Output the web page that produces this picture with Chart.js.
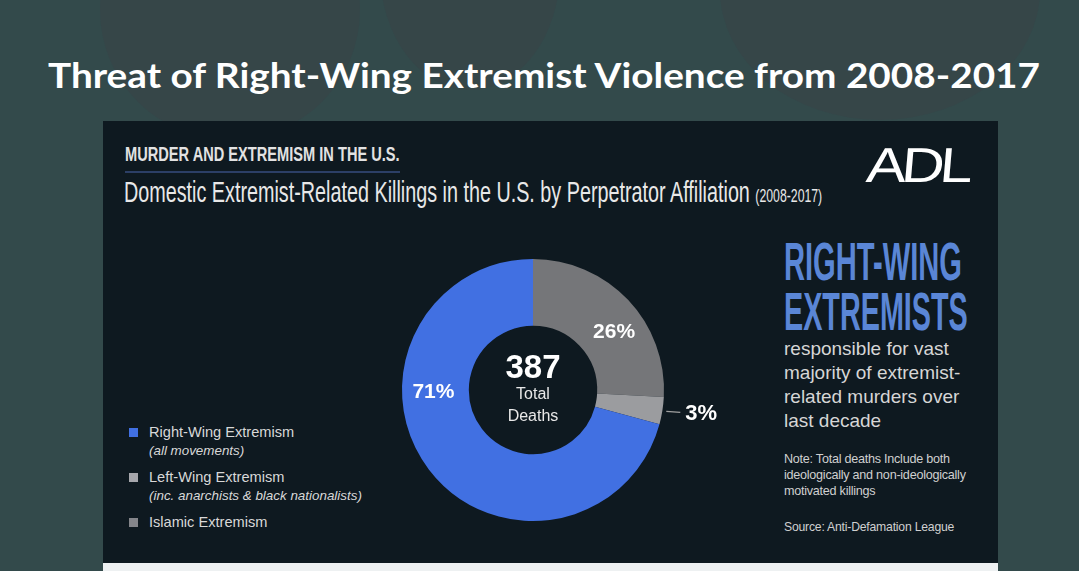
<!DOCTYPE html>
<html>
<head>
<meta charset="utf-8">
<script src="https://cdn.jsdelivr.net/npm/chart.js@4.4.1/dist/chart.umd.min.js"></script>
<style>
  html, body { margin:0; padding:0; }
  body { width:1079px; height:571px; position:relative; overflow:hidden; background:#334a4b; font-family:"Liberation Sans", Arial, sans-serif; }
  .deco { position:absolute; border-radius:50%; background:#3c4046; opacity:0.35; }
  .fit { display:inline-block; transform-origin:left top; white-space:nowrap; }
  #title { position:absolute; left:48px; top:54px; color:#fff; font-family:Lato, "Open Sans", sans-serif; font-weight:700; font-size:34px; line-height:42px; }
  #panel { position:absolute; left:103px; top:121px; width:895px; height:442px; background:#0e1920; }
  #strip { position:absolute; left:103px; top:563px; width:895px; height:8px; background:#eef1f2; }
  #kicker { position:absolute; left:125px; top:143px; color:#e2e2e2; font-family:"Liberation Sans", Arial, sans-serif; font-weight:700; font-size:19.5px; line-height:22px; }
  #kbar { position:absolute; left:125px; top:171px; width:275px; height:2px; background:#2c3f66; }
  #subtitle { position:absolute; left:124px; top:176px; color:#e8e8e8; font-family:"Liberation Sans", Arial, sans-serif; font-size:29px; line-height:33px; }
  #subtitle small { font-size:18px; }
  #adl { position:absolute; left:869px; top:137px; color:#fff; font-family:"Liberation Sans", Arial, sans-serif; font-size:49px; letter-spacing:-4px; white-space:nowrap; transform-origin:left top; transform:scaleX(1.22) skewX(-4deg); }
  #adl span { font-size:10px; letter-spacing:0; }
  #big { position:absolute; left:784px; top:237px; color:#5a86d6; font-family:"Liberation Sans", Arial, sans-serif; font-weight:700; font-size:53px; line-height:50px; }
  #resp { position:absolute; left:784px; top:337px; color:#d6d6d6; font-family:"Liberation Sans", Arial, sans-serif; font-size:19px; line-height:24px; white-space:nowrap; }
  #note { position:absolute; left:784px; top:451px; color:#d0d0d0; font-family:"Liberation Sans", Arial, sans-serif; font-size:12.6px; line-height:16px; white-space:nowrap; letter-spacing:-0.25px; }
  #source { position:absolute; left:784px; top:520px; color:#d0d0d0; font-family:"Liberation Sans", Arial, sans-serif; font-size:12.2px; white-space:nowrap; letter-spacing:-0.2px; }
  #legend { position:absolute; left:129px; top:424px; color:#d8d8d8; font-family:"Liberation Sans", Arial, sans-serif; }
  .li { position:relative; padding-left:20px; font-size:14.6px; line-height:17px; white-space:nowrap; margin-bottom:8px; }
  .li .sw { position:absolute; left:0; top:4px; width:9px; height:9px; }
  .li .sub { font-style:italic; font-size:13.4px; line-height:20px; display:block; }
  #chartWrap { position:absolute; left:0; top:0; width:1079px; height:571px; }
</style>
</head>
<body>
<div class="deco" style="left:100px;top:-120px;width:260px;height:260px;"></div>
<div class="deco" style="left:380px;top:-150px;width:180px;height:240px;"></div>
<div class="deco" style="left:720px;top:-140px;width:320px;height:260px;"></div>
<div id="title" class="fit" data-w="992">Threat of Right-Wing Extremist Violence from 2008-2017</div>
<div id="panel"></div>
<div id="strip"></div>
<div id="kicker" class="fit" data-w="275">MURDER AND EXTREMISM IN THE U.S.</div>
<div id="kbar"></div>
<div id="subtitle" class="fit" data-w="698">Domestic Extremist-Related Killings in the U.S. by Perpetrator Affiliation <small>(2008-2017)</small></div>
<div id="adl">ADL<span>.</span></div>
<div id="big"><span class="fit" data-w="178">RIGHT-WING</span><br><span class="fit" data-w="184">EXTREMISTS</span></div>
<div id="resp">responsible for vast<br>majority of extremist-<br>related murders over<br>last decade</div>
<div id="note">Note: Total deaths Include both<br>ideologically and non-ideologically<br>motivated killings</div>
<div id="source">Source: Anti-Defamation League</div>
<div id="legend"></div>
<div id="chartWrap"><canvas id="c"></canvas></div>
<script>
// ---- data ----
const categories = ['Right-Wing Extremism', 'Left-Wing Extremism', 'Islamic Extremism'];
const subLabels = ['(all movements)', '(inc. anarchists & black nationalists)', ''];
const deaths = [274, 13, 100];
const totalLabel = ['Total', 'Deaths'];

// ---- styles ----
const sliceColors = ['#4170e2', '#9b9c9f', '#757679'];
const legendColors = ['#4170e2', '#a6a7ac', '#84858a'];
const drawOrder = [2, 1, 0];               // clockwise from top: Islamic, Left-Wing, Right-Wing
const labelMode = { 0: 'inside', 1: 'outside', 2: 'inside' };
const labelAngleShift = { 0: 36, 1: 0, 2: 8 };  // degrees

const total = deaths.reduce((a, b) => a + b, 0);

// fit condensed/stretched text to measured widths
document.querySelectorAll('.fit').forEach(el => {
  const w = el.offsetWidth;
  const target = parseFloat(el.dataset.w);
  el.style.transform = 'scaleX(' + (target / w) + ')';
});

// legend
const lg = document.getElementById('legend');
categories.forEach((c, i) => {
  const d = document.createElement('div');
  d.className = 'li';
  d.innerHTML = '<span class="sw" style="background:' + legendColors[i] + '"></span>' + c +
    (subLabels[i] ? '<span class="sub">' + subLabels[i] + '</span>' : '');
  lg.appendChild(d);
});

const labelPlugin = {
  id: 'sliceLabels',
  afterDatasetsDraw(chart) {
    const ctx = chart.ctx;
    const meta = chart.getDatasetMeta(0);
    ctx.save();
    ctx.fillStyle = '#ffffff';
    ctx.textAlign = 'center';
    ctx.textBaseline = 'middle';
    let cx = 0, cy = 0;
    meta.data.forEach((arc, k) => {
      const idx = drawOrder[k];
      const p = arc.getProps(['x', 'y', 'startAngle', 'endAngle', 'innerRadius', 'outerRadius'], true);
      cx = p.x; cy = p.y;
      const pct = Math.round(deaths[idx] / total * 100) + '%';
      const mid = (p.startAngle + p.endAngle) / 2 + labelAngleShift[idx] * Math.PI / 180;
      if (labelMode[idx] === 'inside') {
        const r = (p.innerRadius + p.outerRadius) / 2 + 2;
        ctx.font = '700 21px "Liberation Sans", Arial, sans-serif';
        ctx.fillText(pct, p.x + Math.cos(mid) * r, p.y + Math.sin(mid) * r);
      } else {
        const r0 = p.outerRadius + 4;
        ctx.strokeStyle = '#a0a0a0';
        ctx.lineWidth = 1.2;
        ctx.beginPath();
        ctx.moveTo(p.x + Math.cos(mid) * r0, p.y + Math.sin(mid) * r0);
        ctx.lineTo(p.x + Math.cos(mid) * r0 + 14, p.y + Math.sin(mid) * r0 + 1);
        ctx.stroke();
        ctx.font = '700 22px "Liberation Sans", Arial, sans-serif';
        ctx.textAlign = 'left';
        ctx.fillText(pct, p.x + Math.cos(mid) * r0 + 19, p.y + Math.sin(mid) * r0 + 3);
        ctx.textAlign = 'center';
      }
    });
    // center total
    ctx.font = '700 33px "Liberation Sans", Arial, sans-serif';
    ctx.fillText(String(total), cx, cy - 21);
    ctx.font = '400 16px "Liberation Sans", Arial, sans-serif';
    ctx.fillStyle = '#e8e8e8';
    ctx.fillText(totalLabel[0], cx, cy + 5);
    ctx.fillText(totalLabel[1], cx, cy + 27);
    ctx.restore();
  }
};

new Chart(document.getElementById('c'), {
  type: 'doughnut',
  data: {
    labels: drawOrder.map(i => categories[i]),
    datasets: [{
      data: drawOrder.map(i => deaths[i]),
      backgroundColor: drawOrder.map(i => sliceColors[i]),
      borderWidth: 0
    }]
  },
  options: {
    responsive: true,
    maintainAspectRatio: false,
    animation: false,
    cutout: '49%',
    layout: { padding: { left: 402, right: 415, top: 259, bottom: 50 } },
    plugins: { legend: { display: false }, tooltip: { enabled: false } }
  },
  plugins: [labelPlugin]
});
</script>
</body>
</html>
